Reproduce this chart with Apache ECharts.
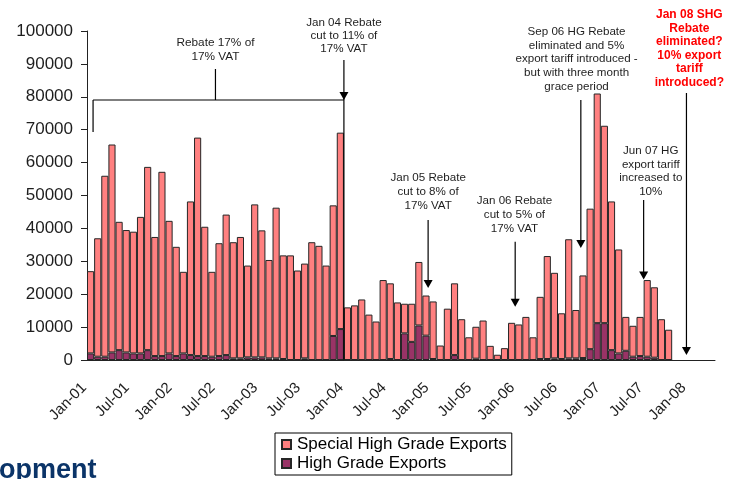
<!DOCTYPE html>
<html>
<head>
<meta charset="utf-8">
<script src="https://cdn.jsdelivr.net/npm/echarts@6/dist/echarts.min.js"></script>
<style>
  html, body { margin: 0; padding: 0; background: #fff; }
  #chart { width: 737px; height: 479px; }
</style>
</head>
<body>
<div id="chart"></div>
<script>
// Monthly export months (axis runs on to Apr-08)
const categories = [
  'Jan-01','Feb-01','Mar-01','Apr-01','May-01','Jun-01','Jul-01','Aug-01','Sep-01','Oct-01','Nov-01','Dec-01',
  'Jan-02','Feb-02','Mar-02','Apr-02','May-02','Jun-02','Jul-02','Aug-02','Sep-02','Oct-02','Nov-02','Dec-02',
  'Jan-03','Feb-03','Mar-03','Apr-03','May-03','Jun-03','Jul-03','Aug-03','Sep-03','Oct-03','Nov-03','Dec-03',
  'Jan-04','Feb-04','Mar-04','Apr-04','May-04','Jun-04','Jul-04','Aug-04','Sep-04','Oct-04','Nov-04','Dec-04',
  'Jan-05','Feb-05','Mar-05','Apr-05','May-05','Jun-05','Jul-05','Aug-05','Sep-05','Oct-05','Nov-05','Dec-05',
  'Jan-06','Feb-06','Mar-06','Apr-06','May-06','Jun-06','Jul-06','Aug-06','Sep-06','Oct-06','Nov-06','Dec-06',
  'Jan-07','Feb-07','Mar-07','Apr-07','May-07','Jun-07','Jul-07','Aug-07','Sep-07','Oct-07','Nov-07','Dec-07',
  'Jan-08','Feb-08','Mar-08','Apr-08'
];

// High Grade exports (tonnes), bottom of each stack
const hgExports = [
  2000, 1000, 1000, 2300, 3000, 2300, 2000, 2000, 3000, 1200, 1200, 2000,
  1200, 2000, 1500, 1200, 1200, 1000, 1200, 1500,  500,  500,  800,  800,
   800,  500,  500,  300,    0,    0,  500,    0,    0,    0, 7300, 9400,
     0,    0,    0,    0,    0,    0,  300,    0, 8100, 5500,10500, 7400,
   300,    0,    0, 1500,    0,    0,  400,    0,    0,    0,    0,    0,
     0,    0,    0,  300,  300,  500,  300,  500,  500,  600, 3300,11200,
 11200, 3000, 2000, 2800, 1000, 1200, 1000,  700,    0,    0
];

// Special High Grade exports (tonnes), stacked on top
const shgExports = [
 25000,36000,55000,63200,39000,37200,37000,41500,55700,36200,56000,40300,
 33200,24800,46700,66400,39300,25800,34300,42700,35300,36900,27900,46500,
 38600,29900,45800,31500,31800,27200,28800,35800,34700,28700,39700,59700,
 16000,16600,18400,13800,11700,24300,23000,17500, 9000,11600,19300,12200,
 17500, 4400,15600,21800,12400, 6900, 9700,12000, 4300, 1600, 3600,11300,
 10800,13100, 6900,18900,31300,26000,13900,36200,14700,25100,42700,69800,
 60000,45200,31600,10300, 9400,11900,23300,21400,12400, 9200
];

const yTicks = [0, 10000, 20000, 30000, 40000, 50000, 60000, 70000, 80000, 90000, 100000];

const FONT = '"Liberation Sans", Arial, sans-serif';
const INK = '#1e1e1e';

const chart = echarts.init(document.getElementById('chart'));

chart.setOption({
  animation: false,
  backgroundColor: '#ffffff',
  textStyle: { fontFamily: FONT },
  grid: { left: 87, right: 22, top: 31, bottom: 119, containLabel: false },
  legend: {
    data: ['Special High Grade Exports', 'High Grade Exports'],
    orient: 'vertical',
    left: 275,
    top: 433,
    padding: [3, 5, 3, 6],
    itemGap: 2,
    itemWidth: 9,
    itemHeight: 9,
    icon: 'rect',
    borderColor: '#000',
    borderWidth: 1,
    textStyle: { fontFamily: FONT, fontSize: 17, color: '#000', padding: [0, 0, 0, 1] }
  },
  xAxis: {
    type: 'category',
    data: categories,
    boundaryGap: true,
    axisLine: { lineStyle: { color: '#222', width: 1 } },
    axisTick: { interval: 5, length: 5, lineStyle: { color: '#222' } },
    axisLabel: {
      interval: 5,
      rotate: 45,
      margin: 19,
      padding: [0, 9, 0, 0],
      fontSize: 15,
      color: INK,
      fontFamily: FONT
    },
    splitLine: { show: false }
  },
  yAxis: {
    type: 'value',
    min: yTicks[0],
    max: yTicks[yTicks.length - 1],
    interval: yTicks[1] - yTicks[0],
    axisLine: { show: true, lineStyle: { color: '#222', width: 1 } },
    axisTick: { show: true, length: 6, lineStyle: { color: '#222' } },
    axisLabel: {
      margin: 14, fontSize: 17, color: INK, fontFamily: FONT,
      formatter: function (v) { return String(v); }
    },
    splitLine: { show: false }
  },
  series: [
    {
      name: 'High Grade Exports',
      type: 'bar',
      stack: 'exports',
      data: hgExports,
      barWidth: '100%',
      barCategoryGap: 0,
      itemStyle: { color: '#993366', borderColor: '#262626', borderWidth: 1 }
    },
    {
      name: 'Special High Grade Exports',
      type: 'bar',
      stack: 'exports',
      data: shgExports,
      barWidth: '100%',
      barCategoryGap: 0,
      itemStyle: { color: '#FF8080', borderColor: '#262626', borderWidth: 1 }
    }
  ]
});

// x pixel of a month boundary (m = 0 is the start of Jan-01)
function monthX(m) {
  const c0 = chart.convertToPixel({ xAxisIndex: 0 }, 0);
  const c1 = chart.convertToPixel({ xAxisIndex: 0 }, 1);
  const band = c1 - c0;
  return c0 - band / 2 + m * band;
}

function note(text, cx, top, opts) {
  opts = opts || {};
  return {
    type: 'text',
    z: 100,
    style: {
      text: text,
      x: cx,
      y: top,
      align: 'center',
      verticalAlign: 'top',
      fontFamily: FONT,
      fontSize: opts.size || 11.6,
      fontWeight: opts.bold ? 'bold' : 'normal',
      lineHeight: opts.lh || 13.7,
      fill: opts.color || INK
    }
  };
}

function seg(x1, y1, x2, y2) {
  return {
    type: 'line', z: 100,
    shape: { x1: x1, y1: y1, x2: x2, y2: y2 },
    style: { stroke: '#000', lineWidth: 1.2 }
  };
}

function arrowHead(x, tipY) {
  return {
    type: 'polygon', z: 100,
    shape: { points: [[x - 4.5, tipY - 8], [x + 4.5, tipY - 8], [x, tipY]] },
    style: { fill: '#000' }
  };
}

function arrow(x, y1, tipY) {
  return [seg(x, y1, x, tipY - 2), arrowHead(x, tipY)];
}

const xJan04 = monthX(36);
const xBracketL = monthX(0.85);
const xRebate = monthX(18);

const graphics = [
  // slide title fragment
  {
    type: 'text', z: 100,
    style: {
      text: 'opment', x: -1, y: 457, verticalAlign: 'alphabetic',
      fontFamily: FONT, fontSize: 27, fontWeight: 'bold', fill: '#0B3468'
    }
  },
  note('Rebate 17% of\n17% VAT', xRebate, 36, { size: 11.8, lh: 13.6 }),
  seg(xRebate, 69, xRebate, 100),
  seg(xBracketL, 100, xJan04, 100),
  seg(xBracketL, 100, xBracketL, 132),

  note('Jan 04 Rebate\ncut to 11% of\n17% VAT', xJan04, 15.8, { lh: 13.3 }),
  seg(xJan04, 60, xJan04, 360),
  arrowHead(xJan04, 100),

  note('Jan 05 Rebate\ncut to 8% of\n17% VAT', monthX(47.8), 170.5, { lh: 14 }),
  ...arrow(monthX(47.8), 220, 288),

  note('Jan 06 Rebate\ncut to 5% of\n17% VAT', monthX(59.9), 193.7, { lh: 14 }),
  ...arrow(monthX(60), 241.7, 306.7),

  note('Sep 06 HG Rebate\neliminated and 5%\nexport tariff introduced -\nbut with three month\ngrace period',
       monthX(68.6), 24.8, { lh: 13.75 }),
  ...arrow(monthX(69.2), 100, 248),

  note('Jun 07 HG\nexport tariff\nincreased to\n10%', monthX(79), 143.8, { lh: 13.7 }),
  ...arrow(monthX(78), 200, 279.5),

  note('Jan 08 SHG\nRebate\neliminated?\n10% export\ntariff\nintroduced?', monthX(84.4), 8.3,
       { bold: true, size: 12, lh: 13.5, color: '#FF0000' }),
  ...arrow(monthX(84), 93, 355)
];

chart.setOption({ graphic: graphics });
</script>
</body>
</html>
